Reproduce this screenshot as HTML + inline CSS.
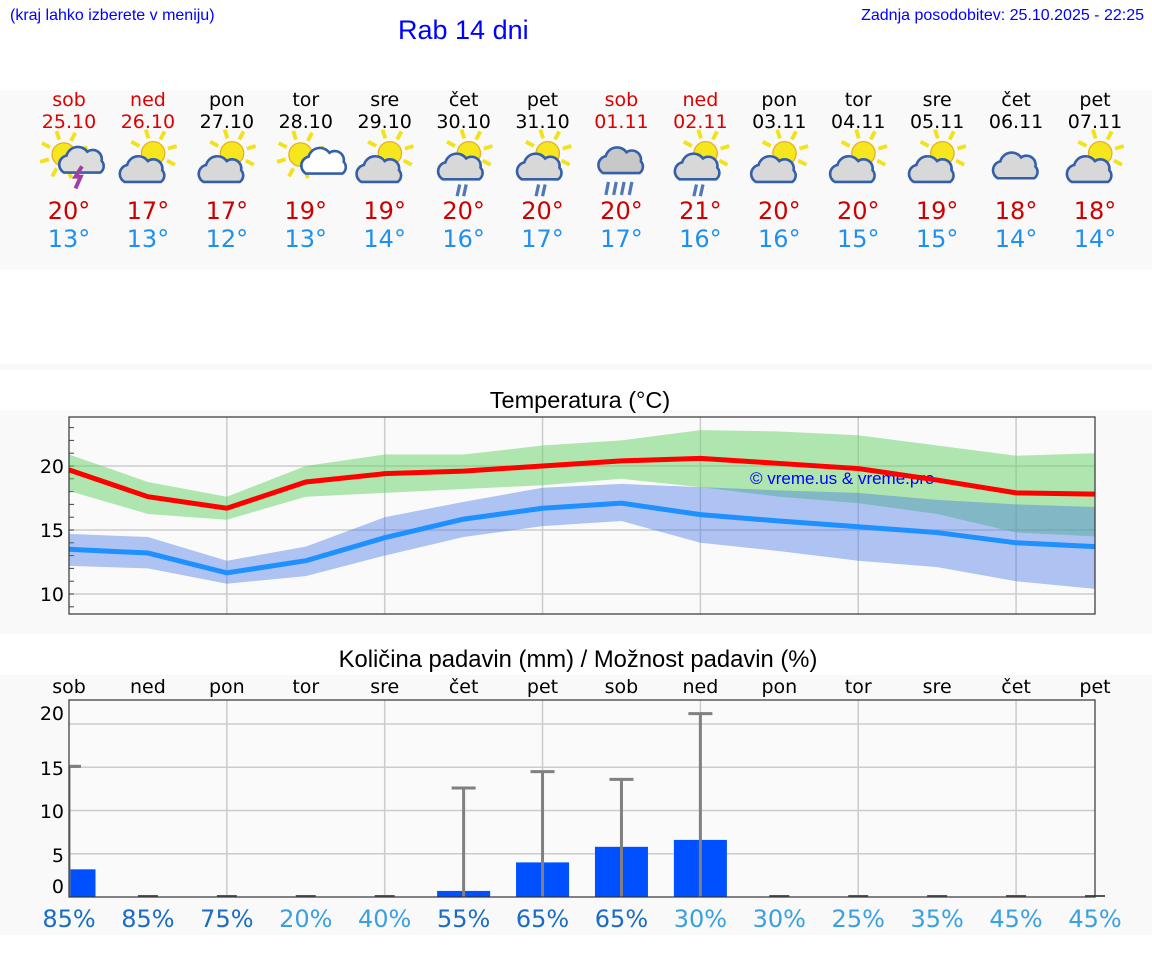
<!DOCTYPE html>
<html><head><meta charset="utf-8"><style>
body{margin:0;width:1152px;height:975px;background:#fff;font-family:"Liberation Sans","DejaVu Sans",sans-serif;position:relative;overflow:hidden}
.a{position:absolute}
.band{position:absolute;left:0;width:1152px;background:#f9f9f9}
.c{position:absolute;transform:translateX(-50%);white-space:nowrap;font-family:"DejaVu Sans",sans-serif}
</style></head><body>
<div class="a" style="left:10px;top:7px;font-size:16px;color:#00f">(kraj lahko izberete v meniju)</div>
<div class="a" style="left:398px;top:15px;font-size:27px;color:#00f">Rab 14 dni</div>
<div class="a" style="right:8px;top:7px;font-size:16px;color:#00f">Zadnja posodobitev: 25.10.2025 - 22:25</div>
<div class="band" style="top:90px;height:180px"></div>
<div class="band" style="top:364px;height:6px"></div>
<div class="band" style="top:410px;height:224px"></div>
<div class="band" style="top:675px;height:260px"></div>
<div id="fc"></div>
<svg id="ch" class="a" style="left:0;top:0" width="1152" height="975"></svg>
<script>
const days=["sob","ned","pon","tor","sre","čet","pet","sob","ned","pon","tor","sre","čet","pet"];
const dates=["25.10","26.10","27.10","28.10","29.10","30.10","31.10","01.11","02.11","03.11","04.11","05.11","06.11","07.11"];
const weekend=[1,1,0,0,0,0,0,1,1,0,0,0,0,0];
const icons=["storm","partly","partly","small","partly","rain","rain","heavy","rain","partly","partly","partly","cloud","partly"];
const tMaxRound=[20,17,17,19,19,20,20,20,21,20,20,19,18,18];
const tMinRound=[13,13,12,13,14,16,17,17,16,16,15,15,14,14];
const tMax=[19.7,17.6,16.7,18.75,19.4,19.6,20.0,20.4,20.6,20.2,19.8,18.9,17.9,17.8];
const tMaxHi=[20.9,18.75,17.6,20.0,20.9,20.9,21.6,22.0,22.8,22.7,22.4,21.6,20.8,21.0];
const tMaxLo=[18.05,16.25,15.8,17.6,17.9,18.2,18.5,19.0,18.35,17.6,17.1,16.25,14.8,14.5];
const tMin=[13.5,13.2,11.65,12.6,14.4,15.85,16.7,17.1,16.2,15.7,15.25,14.8,14.0,13.7];
const tMinHi=[14.7,14.45,12.6,13.7,16.0,17.2,18.3,18.6,18.35,18.1,17.9,17.35,17.0,16.8];
const tMinLo=[12.2,12.0,10.8,11.4,13.0,14.45,15.3,15.7,14.0,13.35,12.6,12.1,11.0,10.4];
const precip=[3.2,0,0,0,0,0.7,4.0,5.8,6.6,0,0,0,0,0];
const precipMax=[15.1,0,0,0,0,12.6,14.5,13.6,21.2,0,0,0,0,0];
const prob=[85,85,75,20,40,55,65,65,30,30,25,35,45,45];
const tTicks=[10,15,20];
const pTicks=[0,5,10,15,20];

const X0=69,X1=1095;
const x=i=>X0+i*(X1-X0)/13;
const ty=v=>466-(v-20)*12.8;
const py=v=>897-v*8.65;
const NS="http://www.w3.org/2000/svg";
const svg=document.getElementById('ch');
function mk(tag,at,parent){const e=document.createElementNS(NS,tag);for(const k in at)e.setAttribute(k,at[k]);(parent||svg).appendChild(e);return e;}

const fc=document.getElementById('fc');
function div(txt,l,t,fs,col){const d=document.createElement('div');d.className='c';d.style.left=l+'px';d.style.top=t+'px';d.style.fontSize=fs+'px';d.style.color=col;d.textContent=txt;fc.appendChild(d);return d;}
function sun(g,cx,cy,r){for(let k=0;k<8;k++){const a=k*Math.PI/4-0.3;mk('line',{x1:cx+Math.cos(a)*(r+3),y1:cy+Math.sin(a)*(r+3),x2:cx+Math.cos(a)*(r+10),y2:cy+Math.sin(a)*(r+10),stroke:'#f2e21c','stroke-width':3},g);}mk('circle',{cx:cx,cy:cy,r:r,fill:'#f5e61e',stroke:'#e8b020','stroke-width':1},g);}
function cloud(g,cx,cy,s,fill){mk('path',{d:`M${cx-14*s},${cy+8*s} a7,7 0 0 1 2,-13 a9,9 0 0 1 16,-3 a7,7 0 0 1 11,7 a6,6 0 0 1 -1,9 z`,fill:fill,stroke:'#3560a8','stroke-width':2},g);}
for(let i=0;i<14;i++){
  const cx=x(i);
  let e=div(days[i],cx,89,19,weekend[i]?'#d00':'#000');
  
  e=div(dates[i],cx,111,19,weekend[i]?'#d00':'#000');
  
  e=div(tMaxRound[i]+'°',cx,197,24,'#c00');
  
  e=div(tMinRound[i]+'°',cx,225,24,'#2090f0');
  
  const outer=mk('g',{transform:`translate(${cx},165) scale(1.3) translate(${-cx},-165)`});
  const g=mk('g',{},outer);
  
  
  const t=icons[i];
  if(t!=='heavy'&&t!=='cloud'){ if(t==='storm'||t==='small') sun(g,cx-4,157,9); else sun(g,cx+4,156,9); }
  if(t==='storm'){cloud(g,cx+8,164,0.85,'#ddd');mk('path',{d:`M${cx+10},166 l-5,8 h4 l-4,9`,stroke:'#a040a0','stroke-width':3,fill:'none'},g);}
  else if(t==='small'){cloud(g,cx+10,166,0.7,'#fff');}
  else if(t==='partly'){cloud(g,cx-4,170,1,'#d8d8d8');}
  else if(t==='rain'){cloud(g,cx-2,168,1,'#d8d8d8');mk('path',{d:`M${cx-3},180 l-2,9 M${cx+2},180 l-2,9`,stroke:'#5078b8','stroke-width':2.5},g);}
  else if(t==='heavy'){cloud(g,cx+2,162,1.15,'#c8c8c8');mk('path',{d:`M${cx-10},178 l-2,10 M${cx-4},178 l-2,10 M${cx+2},178 l-2,10 M${cx+8},178 l-2,10`,stroke:'#5078b8','stroke-width':2.5},g);}
  else if(t==='cloud'){cloud(g,cx+2,166,1.15,'#d8d8d8');}
}

const tt=mk('text',{x:580,y:408,'font-size':23.5,'text-anchor':'middle','font-family':'Liberation Sans'});tt.textContent='Temperatura (°C)';

for(const v of tTicks){mk('line',{x1:X0,x2:X1,y1:ty(v),y2:ty(v),stroke:'#ccc','stroke-width':1.5});
 const l=mk('text',{x:64,y:ty(v)+7,'font-size':19,'text-anchor':'end','font-family':'DejaVu Sans'});l.textContent=v;
 }
for(let v=9;v<=23;v++)mk('line',{x1:X0,x2:X0+5,y1:ty(v),y2:ty(v),stroke:'#444'});
for(let i=2;i<14;i+=2){mk('line',{x1:x(i),x2:x(i),y1:417,y2:614,stroke:'#ccc','stroke-width':1.5});mk('line',{x1:x(i),x2:x(i),y1:700,y2:897,stroke:'#ccc','stroke-width':1.5});}
function band(hi,lo,col,name){let d='M'+hi.map((v,i)=>x(i)+','+ty(v)).join(' L')+' L'+lo.map((v,i)=>x(i)+','+ty(v)).reverse().join(' L')+'Z';
 const p=mk('path',{d:d,fill:col});}
band(tMaxHi,tMaxLo,'rgba(100,210,100,0.5)','max-temp-range');
band(tMinHi,tMinLo,'rgba(70,120,230,0.42)','min-temp-range');
const wm=mk('text',{x:750,y:484,'font-size':17,fill:'#00f','font-family':'Liberation Sans'});wm.textContent='© vreme.us & vreme.pro';

let p=mk('polyline',{points:tMax.map((v,i)=>x(i)+','+ty(v)).join(' '),fill:'none',stroke:'#f00','stroke-width':5});

p=mk('polyline',{points:tMin.map((v,i)=>x(i)+','+ty(v)).join(' '),fill:'none',stroke:'#1e90ff','stroke-width':5});

mk('rect',{x:X0,y:417,width:X1-X0,height:197,fill:'none',stroke:'#333','stroke-width':1.2});
svg.insertBefore(mk('rect',{x:X0,y:417,width:X1-X0,height:197,fill:'#fafafa'}),svg.firstChild);

const pt=mk('text',{x:578,y:667,'font-size':23.8,'text-anchor':'middle','font-family':'Liberation Sans'});pt.textContent='Količina padavin (mm) / Možnost padavin (%)';

const pLabelY={0:893,5:862,10:818,15:775,20:720};
for(const v of pTicks){if(v>0)mk('line',{x1:X0,x2:X1,y1:py(v),y2:py(v),stroke:'#ccc','stroke-width':1.5});
 const l=mk('text',{x:64,y:pLabelY[v],'font-size':19,'text-anchor':'end','font-family':'DejaVu Sans'});l.textContent=v;
 }
const clip=mk('clipPath',{id:'pc'});mk('rect',{x:X0,y:700,width:X1-X0,height:197},clip);
for(let i=0;i<14;i++){
 const cx=x(i);
 let l=mk('text',{x:cx,y:693,'font-size':19,'text-anchor':'middle','font-family':'DejaVu Sans'});l.textContent=days[i];
 
 const b=mk('rect',{x:cx-26.5,y:py(precip[i]),width:53,height:Math.max(py(0)-py(precip[i]),0),fill:'#0050ff','clip-path':'url(#pc)'});
 
 if(precip[i]===0)mk('line',{x1:cx-10,x2:cx+10,y1:896,y2:896,stroke:'#555','stroke-width':2});
 if(precipMax[i]>0){const e=mk('path',{d:`M${cx},${py(0)} V${py(precipMax[i])} M${cx-12},${py(precipMax[i])} h24`,stroke:'#808080','stroke-width':3,fill:'none','clip-path':i===0?'url(#pc)':''});
  }
 l=mk('text',{x:cx,y:927,'font-size':24,'text-anchor':'middle','font-family':'DejaVu Sans',fill:prob[i]>=50?'#1a6cc4':'#3aa0e0'});l.textContent=prob[i]+'%';
 
}
mk('line',{x1:X0+2,x2:X0+10,y1:py(precipMax[0]),y2:py(precipMax[0]),stroke:'#808080','stroke-width':3});
mk('rect',{x:X0,y:700,width:X1-X0,height:197,fill:'none',stroke:'#333','stroke-width':1.2});
const bg2=mk('rect',{x:X0,y:700,width:X1-X0,height:197,fill:'#fafafa'});svg.insertBefore(bg2,svg.firstChild);
</script>
</body></html>
